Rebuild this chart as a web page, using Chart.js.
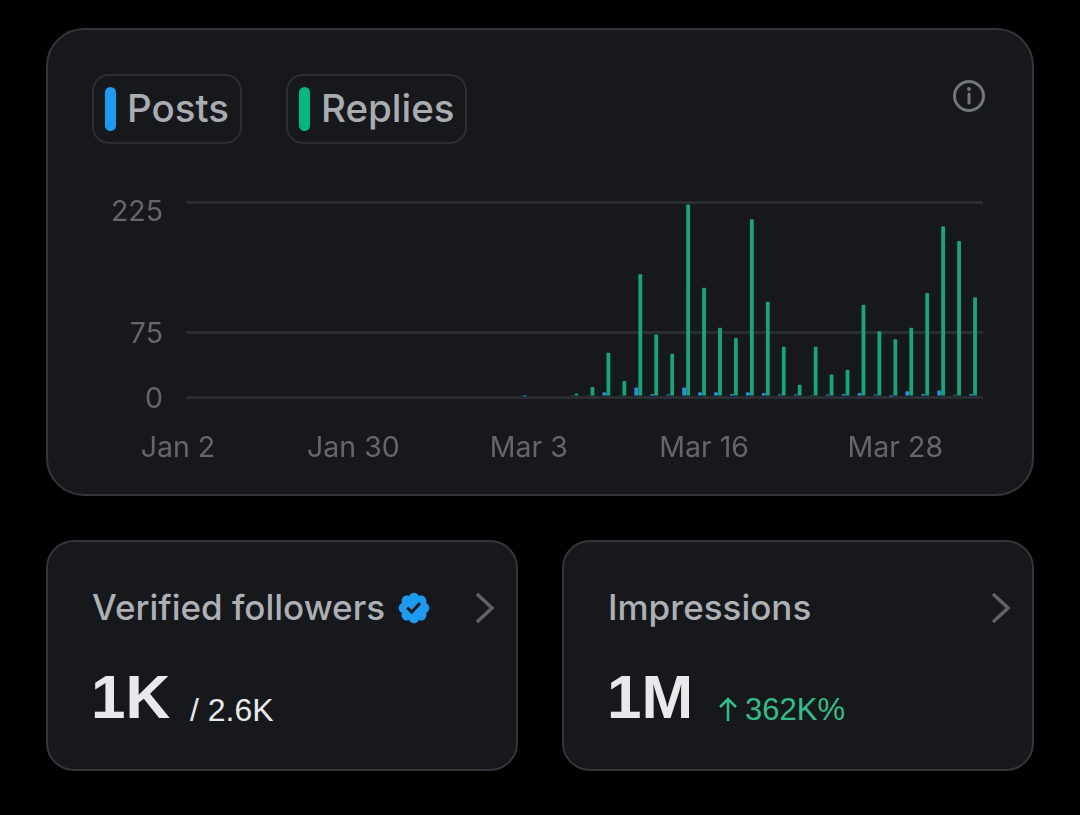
<!DOCTYPE html>
<html>
<head>
<meta charset="utf-8">
<script src="https://cdn.jsdelivr.net/npm/chart.js@4"></script>
<style>
  html, body { margin: 0; padding: 0; background: #000; width: 1080px; height: 815px; overflow: hidden; }
  body { font-family: Inter, Roboto, sans-serif; position: relative; }
  .card { position: absolute; box-sizing: border-box; background: #16181c; border: 2px solid #33363b; }
  #main { left: 46px; top: 28px; width: 988px; height: 468px; border-radius: 38px; }
  #left { left: 46px; top: 540px; width: 472px; height: 231px; border-radius: 28px; }
  #right { left: 562px; top: 540px; width: 472px; height: 231px; border-radius: 28px; }
  .chip { position: absolute; top: 74px; height: 70px; box-sizing: border-box; border: 2px solid #2b2e33; border-radius: 17px; }
  .swatch { position: absolute; top: 87px; width: 11px; height: 44px; border-radius: 6px; }
  .abs { position: absolute; white-space: nowrap; line-height: 1; }
  .chipText { font-size: 38.5px; font-weight: 500; color: #a9acb0; top: 89px; }
  .title { font-size: 35px; font-weight: 500; color: #adb0b4; top: 590px; }
  .big { font-family: "Liberation Sans", sans-serif; font-weight: 700; font-size: 62px; color: #e7e9ea; top: 666px; }
  .small { font-family: "Liberation Sans", sans-serif; font-size: 31px; top: 694px; }
  canvas { position: absolute; left: 90px; top: 190px; }
  svg { position: absolute; }
</style>
</head>
<body>
<div class="card" id="main"></div>
<div class="card" id="left"></div>
<div class="card" id="right"></div>

<div class="chip" style="left:92px;width:150px"></div>
<div class="swatch" style="left:105px;background:#1d9bf0"></div>
<div class="abs chipText" style="left:127px">Posts</div>
<div class="chip" style="left:286px;width:181px"></div>
<div class="swatch" style="left:299px;background:#00ba7c"></div>
<div class="abs chipText" style="left:321px">Replies</div>

<svg style="left:952px;top:79px" width="34" height="34" viewBox="0 0 34 34" fill="none" stroke="#71767b" stroke-width="3">
  <circle cx="17" cy="17" r="14.5"/>
  <path d="M17 15v9" stroke-linecap="round"/>
  <circle cx="17" cy="10" r="1" stroke-width="2" fill="#71767b"/>
</svg>

<canvas id="chart" width="900" height="287"></canvas>

<div class="abs title" style="left:92px">Verified followers</div>
<svg style="left:396px;top:590px" width="36" height="36" viewBox="0 0 24 24"><path fill="#1d9bf0" d="M22.25 12c0-1.43-.88-2.67-2.19-3.34.46-1.39.2-2.9-.81-3.91s-2.52-1.27-3.91-.81c-.66-1.31-1.91-2.19-3.34-2.19s-2.67.88-3.33 2.19c-1.4-.46-2.91-.2-3.92.81s-1.26 2.52-.8 3.91c-1.31.67-2.2 1.91-2.2 3.34s.89 2.67 2.2 3.34c-.46 1.39-.21 2.9.8 3.91s2.52 1.26 3.91.81c.67 1.31 1.91 2.19 3.34 2.19s2.68-.88 3.34-2.19c1.39.45 2.9.2 3.91-.81s1.27-2.52.81-3.91c1.31-.67 2.19-1.91 2.19-3.34zm-11.71 4.2L6.8 12.46l1.41-1.42 2.26 2.26 4.8-5.23 1.47 1.36-6.2 6.77z"/></svg>
<svg style="left:471px;top:590px" width="28" height="36" viewBox="0 0 28 36" fill="none" stroke="#5f6368" stroke-width="3.5"><path d="M6 4l15 14-15 14"/></svg>
<div class="abs big" style="left:91px">1K</div>
<div class="abs small" style="left:190px;color:#e7e9ea;font-size:32px">/ 2.6K</div>

<div class="abs title" style="left:608px">Impressions</div>
<svg style="left:987px;top:590px" width="28" height="36" viewBox="0 0 28 36" fill="none" stroke="#5f6368" stroke-width="3.5"><path d="M6 4l15 14-15 14"/></svg>
<div class="abs big" style="left:607px">1M</div>
<svg style="left:716px;top:696px" width="24" height="28" viewBox="0 0 24 28" fill="none" stroke="#2fbf8a" stroke-width="2.5"><path d="M12 25V3M4 11l8-8 8 8"/></svg>
<div class="abs small" style="left:745px;color:#2fbf8a">362K%</div>

<script>
const categories = [
  'Jan 2', 'Jan 5', 'Jan 8', 'Jan 11', 'Jan 14', 'Jan 17', 'Jan 20', 'Jan 22', 'Jan 25', 'Jan 27',
  'Jan 30', 'Feb 2', 'Feb 5', 'Feb 8', 'Feb 11', 'Feb 14', 'Feb 17', 'Feb 20', 'Feb 23', 'Feb 26',
  'Mar 1', 'Mar 3', 'Mar 4', 'Mar 5', 'Mar 6', 'Mar 7', 'Mar 8', 'Mar 9', 'Mar 11', 'Mar 12',
  'Mar 14', 'Mar 15', 'Mar 16', 'Mar 17', 'Mar 18', 'Mar 19', 'Mar 20', 'Mar 21', 'Mar 22', 'Mar 23',
  'Mar 24', 'Mar 25', 'Mar 26', 'Mar 27', 'Mar 28', 'Mar 29', 'Mar 30', 'Mar 31', 'Apr 1', 'Apr 2'
];
const posts = [
  0, 0, 0, 0, 0, 0, 0, 0, 0, 0,
  0, 0, 0, 0, 0, 0, 0, 0, 0, 0,
  0, 1, 0, 0, 2, 2, 5.5, 2, 11, 3.5,
  3, 11, 5.5, 5.5, 3.5, 5.5, 4.5, 3, 3, 2,
  3, 3.5, 4.5, 3, 0.5, 6.5, 3.5, 7.5, 2.5, 3.5
];
const replies = [
  0, 0, 0, 0, 0, 0, 0, 0, 0, 0,
  0, 0, 0, 0, 0, 0, 0, 0, 0, 0,
  0, 0, 0, 0, 4, 11.5, 51, 18.5, 141.5, 72,
  50, 222, 126, 80, 68, 205, 110, 58, 14, 58,
  26, 31.5, 106.5, 76, 66.5, 80, 120, 197, 180, 115
];
// empty third slot so the green bar sits in the middle of its day
const spacer = categories.map(() => null);
const xTickLabels = ['Jan 2', 'Jan 30', 'Mar 3', 'Mar 16', 'Mar 28'];
const yTicks = [0, 75, 225];

const tickColor = '#63676c';
const gridColor = '#2a2d31';

// labels may hang past the plot, don't let them shrink it
function noScalePadding(scale) {
  scale.paddingLeft = scale.paddingRight = scale.paddingTop = scale.paddingBottom = 0;
}

new Chart(document.getElementById('chart').getContext('2d'), {
  type: 'bar',
  data: {
    labels: categories,
    datasets: [
      { label: 'Posts', data: posts, backgroundColor: '#2b8fdc', borderRadius: 1 },
      { label: 'Replies', data: replies, backgroundColor: '#12a975', borderRadius: 1 },
      { label: '', data: spacer }
    ]
  },
  options: {
    responsive: false,
    animation: false,
    categoryPercentage: 0.75,
    barPercentage: 0.95,
    layout: { padding: { top: 12, right: 7, bottom: 0, left: 0 } },
    plugins: { legend: { display: false }, tooltip: { enabled: false } },
    scales: {
      x: {
        grid: { display: false, drawTicks: false },
        border: { display: false },
        afterFit: function (scale) { scale.height = 80; noScalePadding(scale); },
        ticks: {
          autoSkip: false,
          maxRotation: 0,
          minRotation: 0,
          padding: 34,
          color: tickColor,
          font: { family: 'Inter', size: 28.5 },
          callback: function (value) {
            const label = this.getLabelForValue(value);
            if (!xTickLabels.includes(label)) return '';
            // first label hangs left of the plot, trailing spaces push it over
            return label === 'Jan 2' ? label + '    ' : label;
          }
        }
      },
      y: {
        min: 0,
        max: 225,
        grid: { color: gridColor, lineWidth: 3, drawTicks: false },
        border: { display: false },
        afterFit: function (scale) { scale.width = 96; noScalePadding(scale); },
        afterBuildTicks: function (scale) { scale.ticks = yTicks.map(v => ({ value: v })); },
        ticks: {
          padding: 23,
          labelOffset: 2,
          color: tickColor,
          font: { family: 'Inter', size: 28.5, lineHeight: '16px' },
          // top label sits below its grid line
          callback: value => value === 225 ? ['', '225'] : String(value)
        }
      }
    }
  }
});
</script>
</body>
</html>
